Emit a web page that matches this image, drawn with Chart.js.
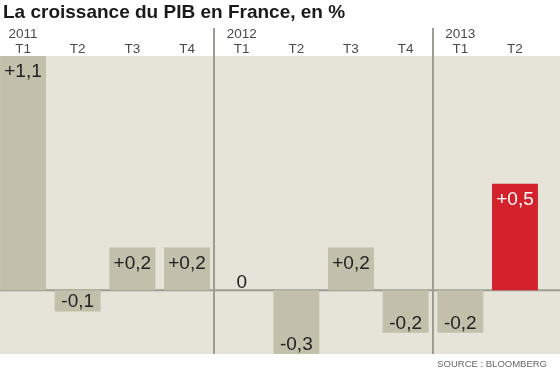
<!DOCTYPE html>
<html><head><meta charset="utf-8">
<script src="https://cdn.jsdelivr.net/npm/chart.js@4.4.0/dist/chart.umd.min.js"></script>
<style>
html,body{margin:0;padding:0;background:#fff;overflow:hidden;width:560px;height:370px;}
#wrap{position:absolute;left:-10px;top:0;width:580px;height:370px;}
</style></head><body>
<div id="wrap"><canvas id="c" width="580" height="370"></canvas></div>
<script>
// ---- data ----
const quarters = ["T1","T2","T3","T4","T1","T2","T3","T4","T1","T2"];
const years = ["2011","","","","2012","","","","2013",""];
const growth = [1.1,-0.1,0.2,0.2,0,-0.3,0.2,-0.2,-0.2,0.5];
const yearStarts = [4, 8];
const highlightIndex = 9;
const titleText = "La croissance du PIB en France, en %";
const sourceText = "SOURCE : BLOOMBERG";
const yMin = -0.3, yMax = 1.1;

// ---- styles ----
const PANEL = "#e6e3d9";
const BAR = "#c2bfaa";
const RED = "#d3222b";
const TEXT = "#222222";
const LINE = "#9d9c92";

const labels = quarters.map((q,i)=> years[i] ? [years[i], q] : q);
const fmt = v => v === 0 ? "0" : (v > 0 ? "+" : "-") + Math.abs(v).toFixed(1).replace(".", ",");

const panelPlugin = {
  id: 'panel',
  beforeDraw(chart){
    const {ctx, chartArea:a, width, height} = chart;
    ctx.save();
    ctx.fillStyle = "#fff"; ctx.fillRect(0,0,width,height);
    ctx.fillStyle = PANEL; ctx.fillRect(0, a.top, width, a.bottom - a.top);
    ctx.restore();
  },
  beforeDatasetsDraw(chart){
    const {ctx, width} = chart;
    const y0 = chart.scales.y.getPixelForValue(0);
    ctx.save();
    ctx.strokeStyle = LINE; ctx.lineWidth = 2;
    ctx.beginPath(); ctx.moveTo(0, y0); ctx.lineTo(width, y0); ctx.stroke();
    ctx.restore();
  },
  afterDatasetsDraw(chart){
    const {ctx, chartArea:a} = chart;
    const xs = chart.scales.x;
    ctx.save();
    ctx.strokeStyle = LINE; ctx.lineWidth = 2;
    yearStarts.forEach(i=>{
      const x = Math.round((xs.getPixelForValue(i-1) + xs.getPixelForValue(i))/2);
      ctx.beginPath(); ctx.moveTo(x, 28); ctx.lineTo(x, a.bottom); ctx.stroke();
    });
    // value labels
    const meta = chart.getDatasetMeta(0);
    ctx.font = "19px 'Liberation Sans', Arial, sans-serif";
    ctx.textAlign = "center"; ctx.textBaseline = "alphabetic";
    meta.data.forEach((el, i)=>{
      const v = growth[i];
      const p = el.getProps(['x','y','base'], true);
      let ty;
      if (v > 0) ty = p.y + 21;
      else if (v < 0) ty = p.y - 4;
      else ty = p.base - 2;
      ctx.fillStyle = i === highlightIndex ? "#ffffff" : TEXT;
      ctx.fillText(fmt(v), p.x, ty);
    });
    ctx.restore();
  },
  afterDraw(chart){
    const {ctx} = chart;
    ctx.save();
    ctx.fillStyle = "#1a1a1a";
    ctx.font = "bold 19px 'Liberation Sans', Arial, sans-serif";
    ctx.textAlign = "left"; ctx.textBaseline = "alphabetic";
    ctx.fillText(titleText, 13, 18);
    ctx.fillStyle = "#666";
    ctx.font = "9.5px 'Liberation Sans', Arial, sans-serif";
    ctx.textAlign = "right";
    ctx.fillText(sourceText, 557, 367);
    ctx.restore();
  }
};

new Chart(document.getElementById('c'), {
  type: 'bar',
  data: {
    labels,
    datasets: [{
      data: growth,
      backgroundColor: growth.map((v,i)=> i === highlightIndex ? RED : BAR),
      borderWidth: 0,
      barPercentage: 0.84,
      categoryPercentage: 1.0
    }]
  },
  options: {
    responsive: false,
    animation: false,
    devicePixelRatio: 1,
    layout: { padding: { left: 5.7, right: 27.7, top: 0, bottom: 16 } },
    plugins: { legend: {display:false}, tooltip: {enabled:false}, title: {display:false} },
    scales: {
      x: {
        position: 'top',
        grid: { display: false, drawTicks: false },
        border: { display: false },
        ticks: { color: "#4a4a4a", font: { size: 13.5, family: "'Liberation Sans', Arial, sans-serif", lineHeight: 1.1 }, padding: -1, maxRotation: 0, autoSkip: false },
        afterFit(s){ s.height = 56; }
      },
      y: {
        display: false,
        min: yMin, max: yMax,
        grid: { display: false }
      }
    }
  },
  plugins: [panelPlugin]
});
</script>
</body></html>
